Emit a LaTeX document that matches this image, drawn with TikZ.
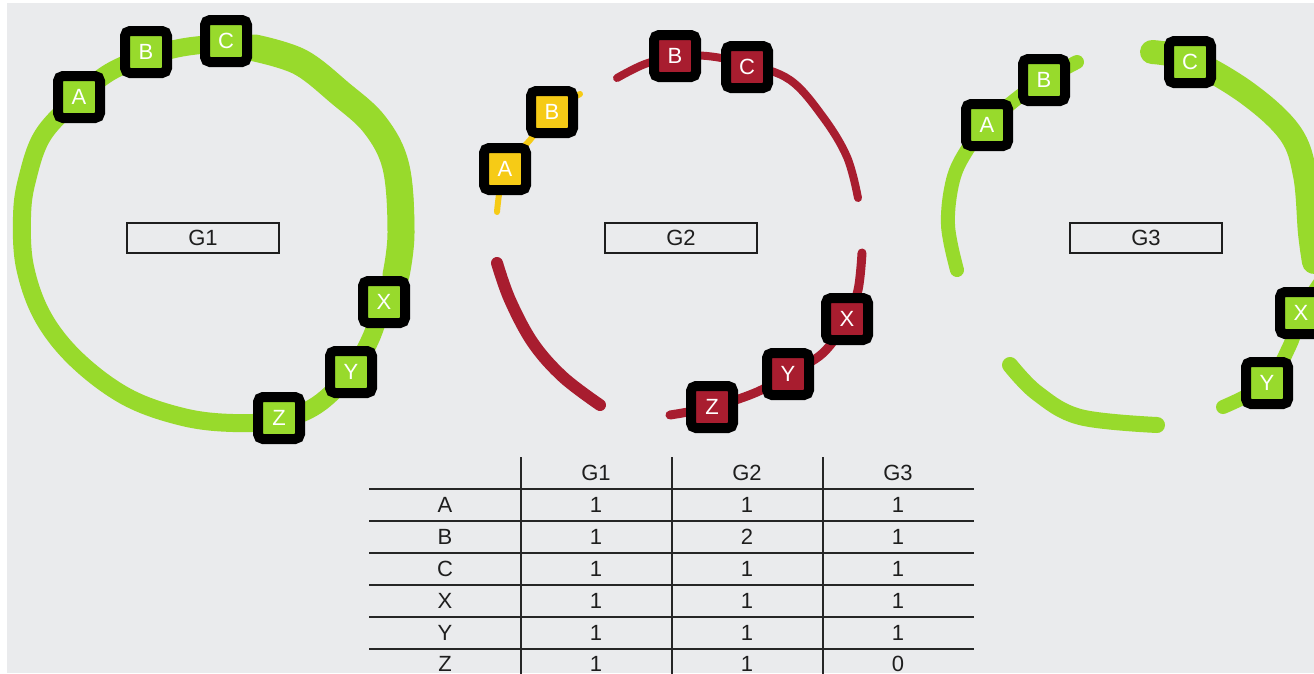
\documentclass[tikz,border=0pt]{standalone}
\usepackage{fontspec}
\setmainfont{Liberation Sans}
\definecolor{paper}{RGB}{234,235,237}
\definecolor{lime}{RGB}{152,218,44}
\definecolor{wine}{RGB}{168,29,47}
\definecolor{amber}{RGB}{246,203,22}
\definecolor{ink}{RGB}{30,30,30}
\begin{document}
\begin{tikzpicture}[x=1pt,y=-1pt,
  brush/.style={line cap=round, line join=round},
  member/.style={draw=black, line width=10pt, rounded corners=5pt,
    minimum size=42pt, inner sep=0pt, text=white,
    font=\fontsize{22}{22}\selectfont},
  limebox/.style={member, fill=lime},
  winebox/.style={member, fill=wine},
  amberbox/.style={member, fill=amber},
  groupbox/.style={draw=ink, line width=1.2pt, minimum width=152pt,
    minimum height=30pt, inner sep=0pt, text=ink,
    font=\fontsize{22}{22}\selectfont},
  cell/.style={inner sep=0pt, text=ink, font=\fontsize{22}{22}\selectfont},
  rule/.style={line width=1.8pt, draw=black!85}]
\useasboundingbox (0,0) rectangle (1314,673);
\fill[white] (0,0) rectangle (1314,673);
\fill[paper] (7,3) rectangle (1314,673);

% ---- group G1: closed green ring ----
\draw[brush, lime, line width=18pt] plot[smooth cycle, tension=0.6] coordinates {
  (226,44) (267,48) (300,60) (340,92) (377,123) (400,167) (405,233)
  (398,275) (384,302) (370,340) (351,372) (317,405) (279,420) (233,423)
  (183,417) (127,397) (77,360) (43,317) (25,267) (22,217) (27,180)
  (43,135) (79,97) (110,72) (146,57) (185,47)};
\draw[brush, lime, line width=27pt] plot[smooth, tension=0.6] coordinates {
  (255,48) (300,62) (340,93) (375,125) (396,167) (401,233) (396,275)};

% ---- group G2: broken red ring and yellow piece ----
\draw[brush, wine, line width=8pt] plot[smooth, tension=0.6] coordinates {
  (617,78) (645,64) (675,57) (707,56) (747,64) (790,80) (823,117)
  (847,157) (858,198)};
\draw[brush, wine, line width=9pt] plot[smooth, tension=0.6] coordinates {
  (862,253) (858,290) (847,319) (823,353) (788,374) (757,392) (712,407)
  (670,415)};
\draw[brush, wine, line width=12pt] plot[smooth, tension=0.6] coordinates {
  (497,263) (510,300) (533,343) (563,377) (600,405)};
\draw[brush, amber, line width=6pt] plot[smooth, tension=0.6] coordinates {
  (497,212) (505,169) (530,140) (552,112) (580,94)};

% ---- group G3: green ring with gaps ----
\draw[brush, lime, line width=14pt] plot[smooth, tension=0.6] coordinates {
  (957,270) (948,225) (953,180) (967,150) (987,125) (1015,100)
  (1044,80) (1077,62)};
\draw[brush, lime, line width=24pt] plot[smooth, tension=0.6] coordinates {
  (1152,52) (1190,60) (1247,93) (1290,133) (1305,175) (1310,233)
  (1314,262)};
\draw[brush, lime, line width=14pt] plot[smooth, tension=0.6] coordinates {
  (1322,280) (1301,313) (1290,345) (1267,383) (1223,407)};
\draw[brush, lime, line width=16pt] plot[smooth, tension=0.6] coordinates {
  (1010,365) (1037,393) (1080,417) (1157,425)};

% ---- group labels ----
\node[groupbox] (g1) at (203,238) {G1};
\node[groupbox] (g2) at (681,238) {G2};
\node[groupbox] (g3) at (1146,238) {G3};

% ---- members of G1 ----
\node[limebox] (g1a) at (79,97) {A};
\node[limebox] (g1b) at (146,52) {B};
\node[limebox] (g1c) at (226,41) {C};
\node[limebox] (g1x) at (384,302) {X};
\node[limebox] (g1y) at (351,372) {Y};
\node[limebox] (g1z) at (279,418) {Z};

% ---- members of G2 ----
\node[amberbox] (g2a) at (505,169) {A};
\node[amberbox] (g2b2) at (552,112) {B};
\node[winebox] (g2b) at (675,56) {B};
\node[winebox] (g2c) at (747,67) {C};
\node[winebox] (g2x) at (847,319) {X};
\node[winebox] (g2y) at (788,374) {Y};
\node[winebox] (g2z) at (712,407) {Z};

% ---- members of G3 ----
\node[limebox] (g3a) at (987,125) {A};
\node[limebox] (g3b) at (1044,80) {B};
\node[limebox] (g3c) at (1190,62) {C};
\node[limebox] (g3x) at (1301,313) {X};
\node[limebox] (g3y) at (1267,383) {Y};

% ---- membership table ----
\foreach \yy in {489,521,553,585,617,649}
  \draw[rule] (369,\yy) -- (974,\yy);
\foreach \xx in {521,672,823}
  \draw[rule] (\xx,457) -- (\xx,675);

\node[cell] (hg1) at (596,473) {G1};
\node[cell] (hg2) at (747,473) {G2};
\node[cell] (hg3) at (898,473) {G3};

\foreach \name/\yy/\a/\b/\c in {A/505/1/1/1, B/537/1/2/1, C/569/1/1/1,
                                X/601/1/1/1, Y/633/1/1/1, Z/664/1/1/0} {
  \node[cell] (r\name) at (445,\yy) {\name};
  \node[cell] (r\name g1) at (596,\yy) {\a};
  \node[cell] (r\name g2) at (747,\yy) {\b};
  \node[cell] (r\name g3) at (898,\yy) {\c};
}
\end{tikzpicture}
\end{document}
